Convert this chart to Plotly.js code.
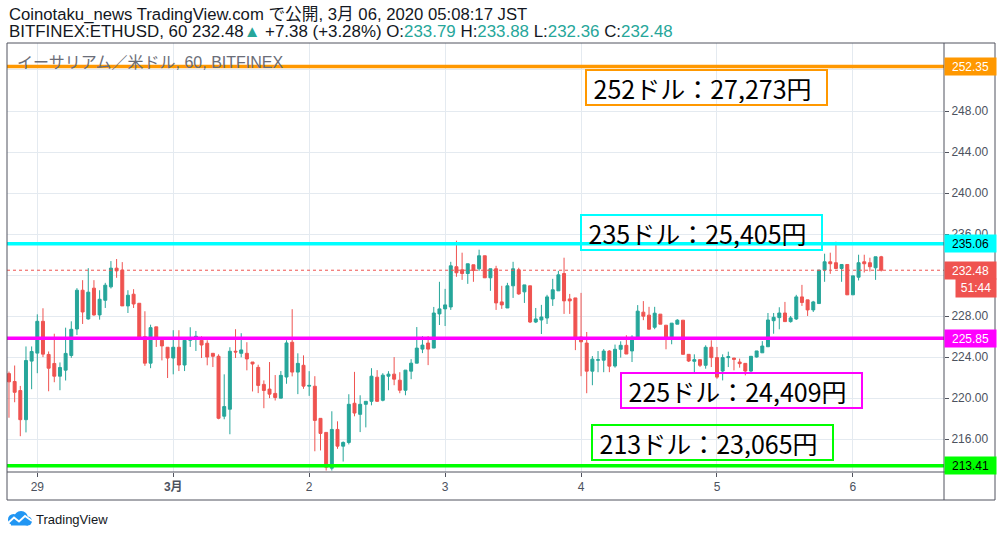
<!DOCTYPE html>
<html>
<head>
<meta charset="utf-8">
<script src="https://cdn.plot.ly/plotly-3.0.1.min.js"></script>
<style>
html,body{margin:0;padding:0;background:#fff;}
#chart{width:1002px;height:537px;}
</style>
</head>
<body>
<div id="chart"></div>
<script>
// ---- data (hourly candles, BITFINEX:ETHUSD 60) ----
const startTime = '2020-02-28 19:00';
const openVals = [222.4,221.63,220.75,217.91,223.62,224.40,227.50,224.27,223.39,222.15,222.74,224.17,226.75,230.53,227.73,230.73,228.12,229.55,230.86,232.68,232.49,229.00,230.14,229.26,226.00,223.42,226.96,225.65,224.97,223.92,224.97,223.24,225.65,225.91,225.65,225.36,224.38,224.09,218.25,218.93,224.58,224.38,224.38,223.53,223.01,221.35,220.89,220.47,220.01,222.07,225.46,222.55,223.21,221.18,221.17,218.04,216.67,213.18,216.96,215.33,215.69,219.51,218.43,219.41,219.70,222.05,219.80,222.15,222.35,221.76,220.78,222.64,223.42,224.79,225.38,224.89,228.22,228.71,228.90,232.82,232.52,232.16,233.01,232.62,233.89,231.74,232.62,229.39,228.80,230.96,232.52,230.37,230.96,227.43,227.63,227.82,229.68,230.47,232.16,229.68,229.78,225.97,225.38,222.64,223.71,223.71,224.60,223.14,224.77,225.16,224.61,225.95,228.39,228.10,226.92,228.20,227.12,225.95,227.22,227.61,224.28,223.60,223.76,223.21,224.97,223.96,222.65,223.96,223.92,223.53,223.40,222.65,224.02,224.43,225.02,227.56,227.86,228.31,227.47,227.73,229.88,229.59,228.61,229.23,232.49,233.30,233.21,232.65,233.04,230.08,231.80,233.30,233.21,232.72,233.79];
const highVals = [222.6,223.19,221.2,225.05,225.05,228.18,228.77,224.56,226.29,223.49,226.88,227.50,230.73,231.51,232.68,231.51,230.53,231.25,233.37,233.57,233.27,230.53,230.63,229.26,228.48,227.17,226.96,225.91,224.97,226.63,226.63,225.72,226.92,226.56,226.04,225.65,224.38,224.28,222.33,224.97,226.73,226.34,225.46,223.53,223.27,221.74,223.53,222.26,222.65,225.65,228.68,224.38,224.18,222.64,222.15,218.04,216.67,218.73,217.75,215.79,220.39,222.57,220.29,219.70,222.93,222.74,222.44,222.64,224.01,222.54,222.74,223.81,226.94,226.06,226.06,228.90,231.35,230.66,233.30,235.36,234.19,233.11,233.01,234.48,233.89,232.62,232.91,230.96,231.25,233.30,232.72,231.05,230.96,228.80,229.10,230.08,231.64,232.42,233.70,230.17,229.78,230.27,226.46,224.11,224.60,224.79,224.69,225.23,225.55,226.14,226.14,229.08,229.47,228.91,228.91,228.20,227.12,227.32,227.71,227.61,224.28,224.28,223.76,225.16,225.65,225.00,224.28,224.54,223.92,223.86,223.40,224.09,224.61,225.57,228.31,228.31,228.87,229.39,228.02,230.08,231.05,229.59,229.49,232.49,234.09,234.19,235.26,233.04,233.04,231.93,233.99,233.99,233.70,233.79,233.88];
const lowVals = [218.1,219.61,216.3,216.67,220.88,222.44,224.01,220.68,221.56,220.78,221.73,223.94,226.16,227.24,227.66,228.05,227.66,228.80,230.70,231.74,229.00,228.31,228.80,225.80,223.16,222.93,225.00,223.69,221.97,222.33,222.65,222.65,225.00,224.61,223.92,223.21,223.04,217.95,217.95,216.49,223.92,223.99,222.72,220.66,220.50,219.03,220.01,219.78,220.01,221.41,222.13,220.40,220.92,220.23,214.83,214.91,212.95,212.95,215.07,213.83,215.50,218.24,216.70,217.16,219.31,219.65,219.70,220.78,221.27,220.49,220.29,221.86,223.42,224.40,223.23,224.89,227.14,227.04,228.61,231.84,231.54,231.15,231.35,232.42,231.74,230.47,228.61,228.71,228.80,229.78,230.08,229.29,227.33,227.33,226.26,227.24,229.00,230.47,228.22,228.22,224.69,222.15,220.49,221.27,222.54,222.54,222.54,222.98,223.96,224.31,223.53,225.95,227.61,226.70,226.73,227.22,224.77,225.26,227.22,224.28,223.53,222.39,223.04,222.88,223.04,221.90,221.74,223.04,222.72,222.98,222.23,222.55,223.96,224.43,225.02,226.29,226.72,227.47,227.37,227.63,229.00,228.02,228.41,229.23,231.35,232.13,232.65,231.35,230.08,230.08,231.48,232.26,232.36,231.54,232.36];
const closeVals = [221.6,220.58,217.91,223.68,224.56,227.50,224.30,222.93,222.15,223.00,224.37,226.72,230.53,228.41,230.34,228.12,229.65,231.02,232.68,232.42,229.00,230.04,229.19,225.97,223.42,226.88,225.91,225.10,223.92,224.97,223.24,225.65,225.91,226.04,225.19,224.02,224.09,218.05,219.19,224.58,224.51,224.71,223.83,223.34,221.25,220.76,220.40,220.07,222.23,225.39,222.55,223.40,221.18,221.25,217.84,216.57,213.28,216.96,215.33,215.69,219.41,218.56,219.41,219.70,222.15,219.70,222.25,222.35,221.86,220.78,222.74,223.42,224.89,225.18,224.79,228.31,228.71,229.10,232.91,232.23,232.16,233.11,232.46,233.89,231.74,232.62,229.29,229.10,230.96,232.62,230.17,231.05,227.43,227.73,227.92,229.88,230.57,232.03,229.49,229.49,225.97,225.50,222.64,223.81,223.75,224.60,223.13,224.77,225.16,224.31,225.95,228.49,228.00,226.73,228.29,227.22,225.95,227.32,227.61,224.28,223.63,223.76,223.21,224.97,223.96,222.06,223.96,224.05,223.79,223.37,222.65,224.09,224.61,225.09,227.63,227.89,228.31,227.47,227.83,229.88,229.33,228.61,229.39,232.49,233.30,233.11,232.65,233.04,230.08,231.93,233.21,233.11,232.82,233.79,232.48];

const levelVals = [252.35, 235.06, 225.85, 213.41];
const levelLabels = ['252.35', '235.06', '225.85', '213.41'];
const levelColors = ['#ff9800', '#00ffff', '#ff00ff', '#00ff00'];
const levelTextColors = ['#ffffff', '#000000', '#ffffff', '#000000'];
const boxTexts = ['252ドル：27,273円', '235ドル：25,405円', '225ドル：24,409円', '213ドル：23,065円'];
const lastPrice = 232.48;
const lastLabel = '232.48';
const countdown = '51:44';
const dayTickVals = ['2020-02-29', '2020-03-01', '2020-03-02', '2020-03-03', '2020-03-04', '2020-03-05', '2020-03-06'];
const dayTickText = ['29', '<b>3月</b>', '2', '3', '4', '5', '6'];
const yTickVals = [216, 220, 224, 228, 232, 236, 240, 244, 248, 252];
const yTickText = ['216.00', '220.00', '224.00', '228.00', '', '236.00', '240.00', '244.00', '248.00', ''];
const headerLine1 = 'Coinotaku_news TradingView.com で公開, 3月 06, 2020 05:08:17 JST';
const symbolLabel = 'イーサリアム／米ドル, 60, BITFINEX';

// ---- helpers ----
function fmt(ms){ return new Date(ms).toISOString().slice(0,19).replace('T',' '); }
const t0 = Date.parse(startTime.replace(' ','T') + ':00Z');
const times = openVals.map((_, i) => fmt(t0 + i * 3600e3));
const xStart = fmt(t0 - 0.35 * 3600e3);
const xEnd = fmt(t0 + (openVals.length - 1 + 11.08) * 3600e3);

const L = 7, R = 944, T = 43, B = 472;
const px = x => (x - L) / (R - L);
const py = y => (B - y) / (B - T);

const UP = '#26a69a', DOWN = '#ef5350', FRAME = '#50535e', TICK = '#4c525e';
const FONT = 'Liberation Sans, Arial, Noto Sans CJK JP, sans-serif';
const JFONT = 'Noto Sans CJK JP, sans-serif';

const trace = {
  type: 'candlestick',
  x: times, open: openVals, high: highVals, low: lowVals, close: closeVals,
  increasing: {line: {color: UP, width: 1}, fillcolor: UP},
  decreasing: {line: {color: DOWN, width: 1}, fillcolor: DOWN},
  whiskerwidth: 0,
  hoverinfo: 'none',
  showlegend: false
};

const shapes = [];
levelVals.forEach((v, i) => {
  shapes.push({type: 'line', xref: 'paper', yref: 'y', x0: 0, x1: 1, y0: v, y1: v,
    line: {color: levelColors[i], width: 3.5}, layer: 'above'});
});
shapes.push({type: 'line', xref: 'paper', yref: 'y', x0: 0, x1: 1, y0: lastPrice, y1: lastPrice,
  line: {color: DOWN, width: 1, dash: 'dot'}, layer: 'above'});
const xr = px(995), yb = py(500);
[[0, 1, xr, 1], [0, yb, xr, yb], [0, yb, 0, 1], [xr, yb, xr, 1], [1, yb, 1, 1], [0, 0, xr, 0]].forEach(s => {
  shapes.push({type: 'line', xref: 'paper', yref: 'paper', x0: s[0], y0: s[1], x1: s[2], y1: s[3],
    line: {color: FRAME, width: 1}, layer: 'above'});
});
const LOGO = '#2196f3';
shapes.push({type: 'circle', xref: 'paper', yref: 'paper', x0: px(8), x1: px(19), y0: py(525), y1: py(514), fillcolor: LOGO, line: {width: 0}});
shapes.push({type: 'circle', xref: 'paper', yref: 'paper', x0: px(14), x1: px(28), y0: py(525), y1: py(511), fillcolor: LOGO, line: {width: 0}});
shapes.push({type: 'circle', xref: 'paper', yref: 'paper', x0: px(23), x1: px(32), y0: py(525.5), y1: py(516.5), fillcolor: LOGO, line: {width: 0}});
shapes.push({type: 'rect', xref: 'paper', yref: 'paper', x0: px(11), x1: px(28), y0: py(525.5), y1: py(519), fillcolor: LOGO, line: {width: 0}});
shapes.push({type: 'path', xref: 'paper', yref: 'paper',
  path: 'M' + px(7) + ',' + py(524) + ' L' + px(14) + ',' + py(517.5) + ' L' + px(19) + ',' + py(521.5) + ' L' + px(25) + ',' + py(516) + ' L' + px(32) + ',' + py(521),
  line: {color: '#ffffff', width: 1.8}});

const annotations = [];
annotations.push({xref: 'paper', yref: 'paper', x: px(7), y: py(14.5), xanchor: 'left', yanchor: 'middle',
  text: headerLine1, showarrow: false, font: {family: FONT, size: 16.7, color: '#131722'}});
annotations.push({xref: 'paper', yref: 'paper', x: px(7), y: py(31), xanchor: 'left', yanchor: 'middle',
  text: 'BITFINEX:ETHUSD, 60 232.48<span style="color:' + UP + '">▲</span> +7.38 (+3.28%) O:<span style="color:' + UP + '">233.79</span> H:<span style="color:' + UP + '">233.88</span> L:<span style="color:' + UP + '">232.36</span> C:<span style="color:' + UP + '">232.48</span>',
  showarrow: false, font: {family: FONT, size: 16.9, color: '#131722'}});
annotations.push({xref: 'paper', yref: 'paper', x: px(15), y: py(62), xanchor: 'left', yanchor: 'middle',
  text: symbolLabel, showarrow: false, font: {family: FONT, size: 16, color: '#6a6d78'}});

const boxPos = [[585, 69], [580, 214], [620, 372], [591, 424]];
boxTexts.forEach((t, i) => {
  annotations.push({xref: 'paper', yref: 'paper', x: px(boxPos[i][0]), y: py(boxPos[i][1]), xanchor: 'left', yanchor: 'top',
    text: '&nbsp;' + t, showarrow: false, font: {family: JFONT, size: 25, color: '#000000'},
    bordercolor: levelColors[i], borderwidth: 2, borderpad: 1, width: 237, height: 31, align: 'left'});
});

levelVals.forEach((v, i) => {
  annotations.push({xref: 'paper', yref: 'y', x: 1, y: v, xanchor: 'left', yanchor: 'middle',
    text: levelLabels[i], showarrow: false, bgcolor: levelColors[i], width: 51, height: 17, borderpad: 0,
    font: {family: FONT, size: 12, color: levelTextColors[i]}, align: 'center'});
});
annotations.push({xref: 'paper', yref: 'y', x: 1, y: lastPrice, xanchor: 'left', yanchor: 'middle',
  text: lastLabel, showarrow: false, bgcolor: DOWN, width: 51, height: 17, borderpad: 0,
  font: {family: FONT, size: 12, color: '#ffffff'}, align: 'center'});
annotations.push({xref: 'paper', yref: 'y', x: px(955), y: lastPrice, yshift: -18, xanchor: 'left', yanchor: 'middle',
  text: countdown, showarrow: false, bgcolor: DOWN, width: 40, height: 18, borderpad: 0,
  font: {family: FONT, size: 12, color: '#ffffff'}, align: 'center'});

annotations.push({xref: 'paper', yref: 'paper', x: px(34), y: py(519), xanchor: 'left', yanchor: 'middle',
  text: 'TradingView', showarrow: false, font: {family: FONT, size: 13, color: '#131722'}});

const layout = {
  width: 1002, height: 537,
  margin: {l: L, r: 1002 - R, t: T, b: 537 - B, pad: 0},
  paper_bgcolor: '#ffffff', plot_bgcolor: '#ffffff',
  boxgap: 0.25,
  showlegend: false,
  dragmode: false,
  hovermode: false,
  xaxis: {
    type: 'date', range: [xStart, xEnd], rangeslider: {visible: false},
    tickmode: 'array', tickvals: dayTickVals, ticktext: dayTickText,
    showgrid: true, gridcolor: '#e4eaf0', gridwidth: 1,
    ticks: 'outside', ticklen: 4, tickcolor: FRAME,
    showline: false, zeroline: false,
    tickfont: {family: FONT, size: 12, color: TICK}
  },
  yaxis: {
    side: 'right', range: [212.81, 254.63],
    tickmode: 'array', tickvals: yTickVals, ticktext: yTickText,
    showgrid: true, gridcolor: '#e4eaf0', gridwidth: 1,
    ticks: 'outside', ticklen: 4, tickcolor: FRAME,
    showline: false, zeroline: false,
    tickfont: {family: FONT, size: 12, color: TICK}
  },
  shapes: shapes,
  annotations: annotations
};

Plotly.newPlot('chart', [trace], layout, {staticPlot: true, displayModeBar: false});
</script>
</body>
</html>
